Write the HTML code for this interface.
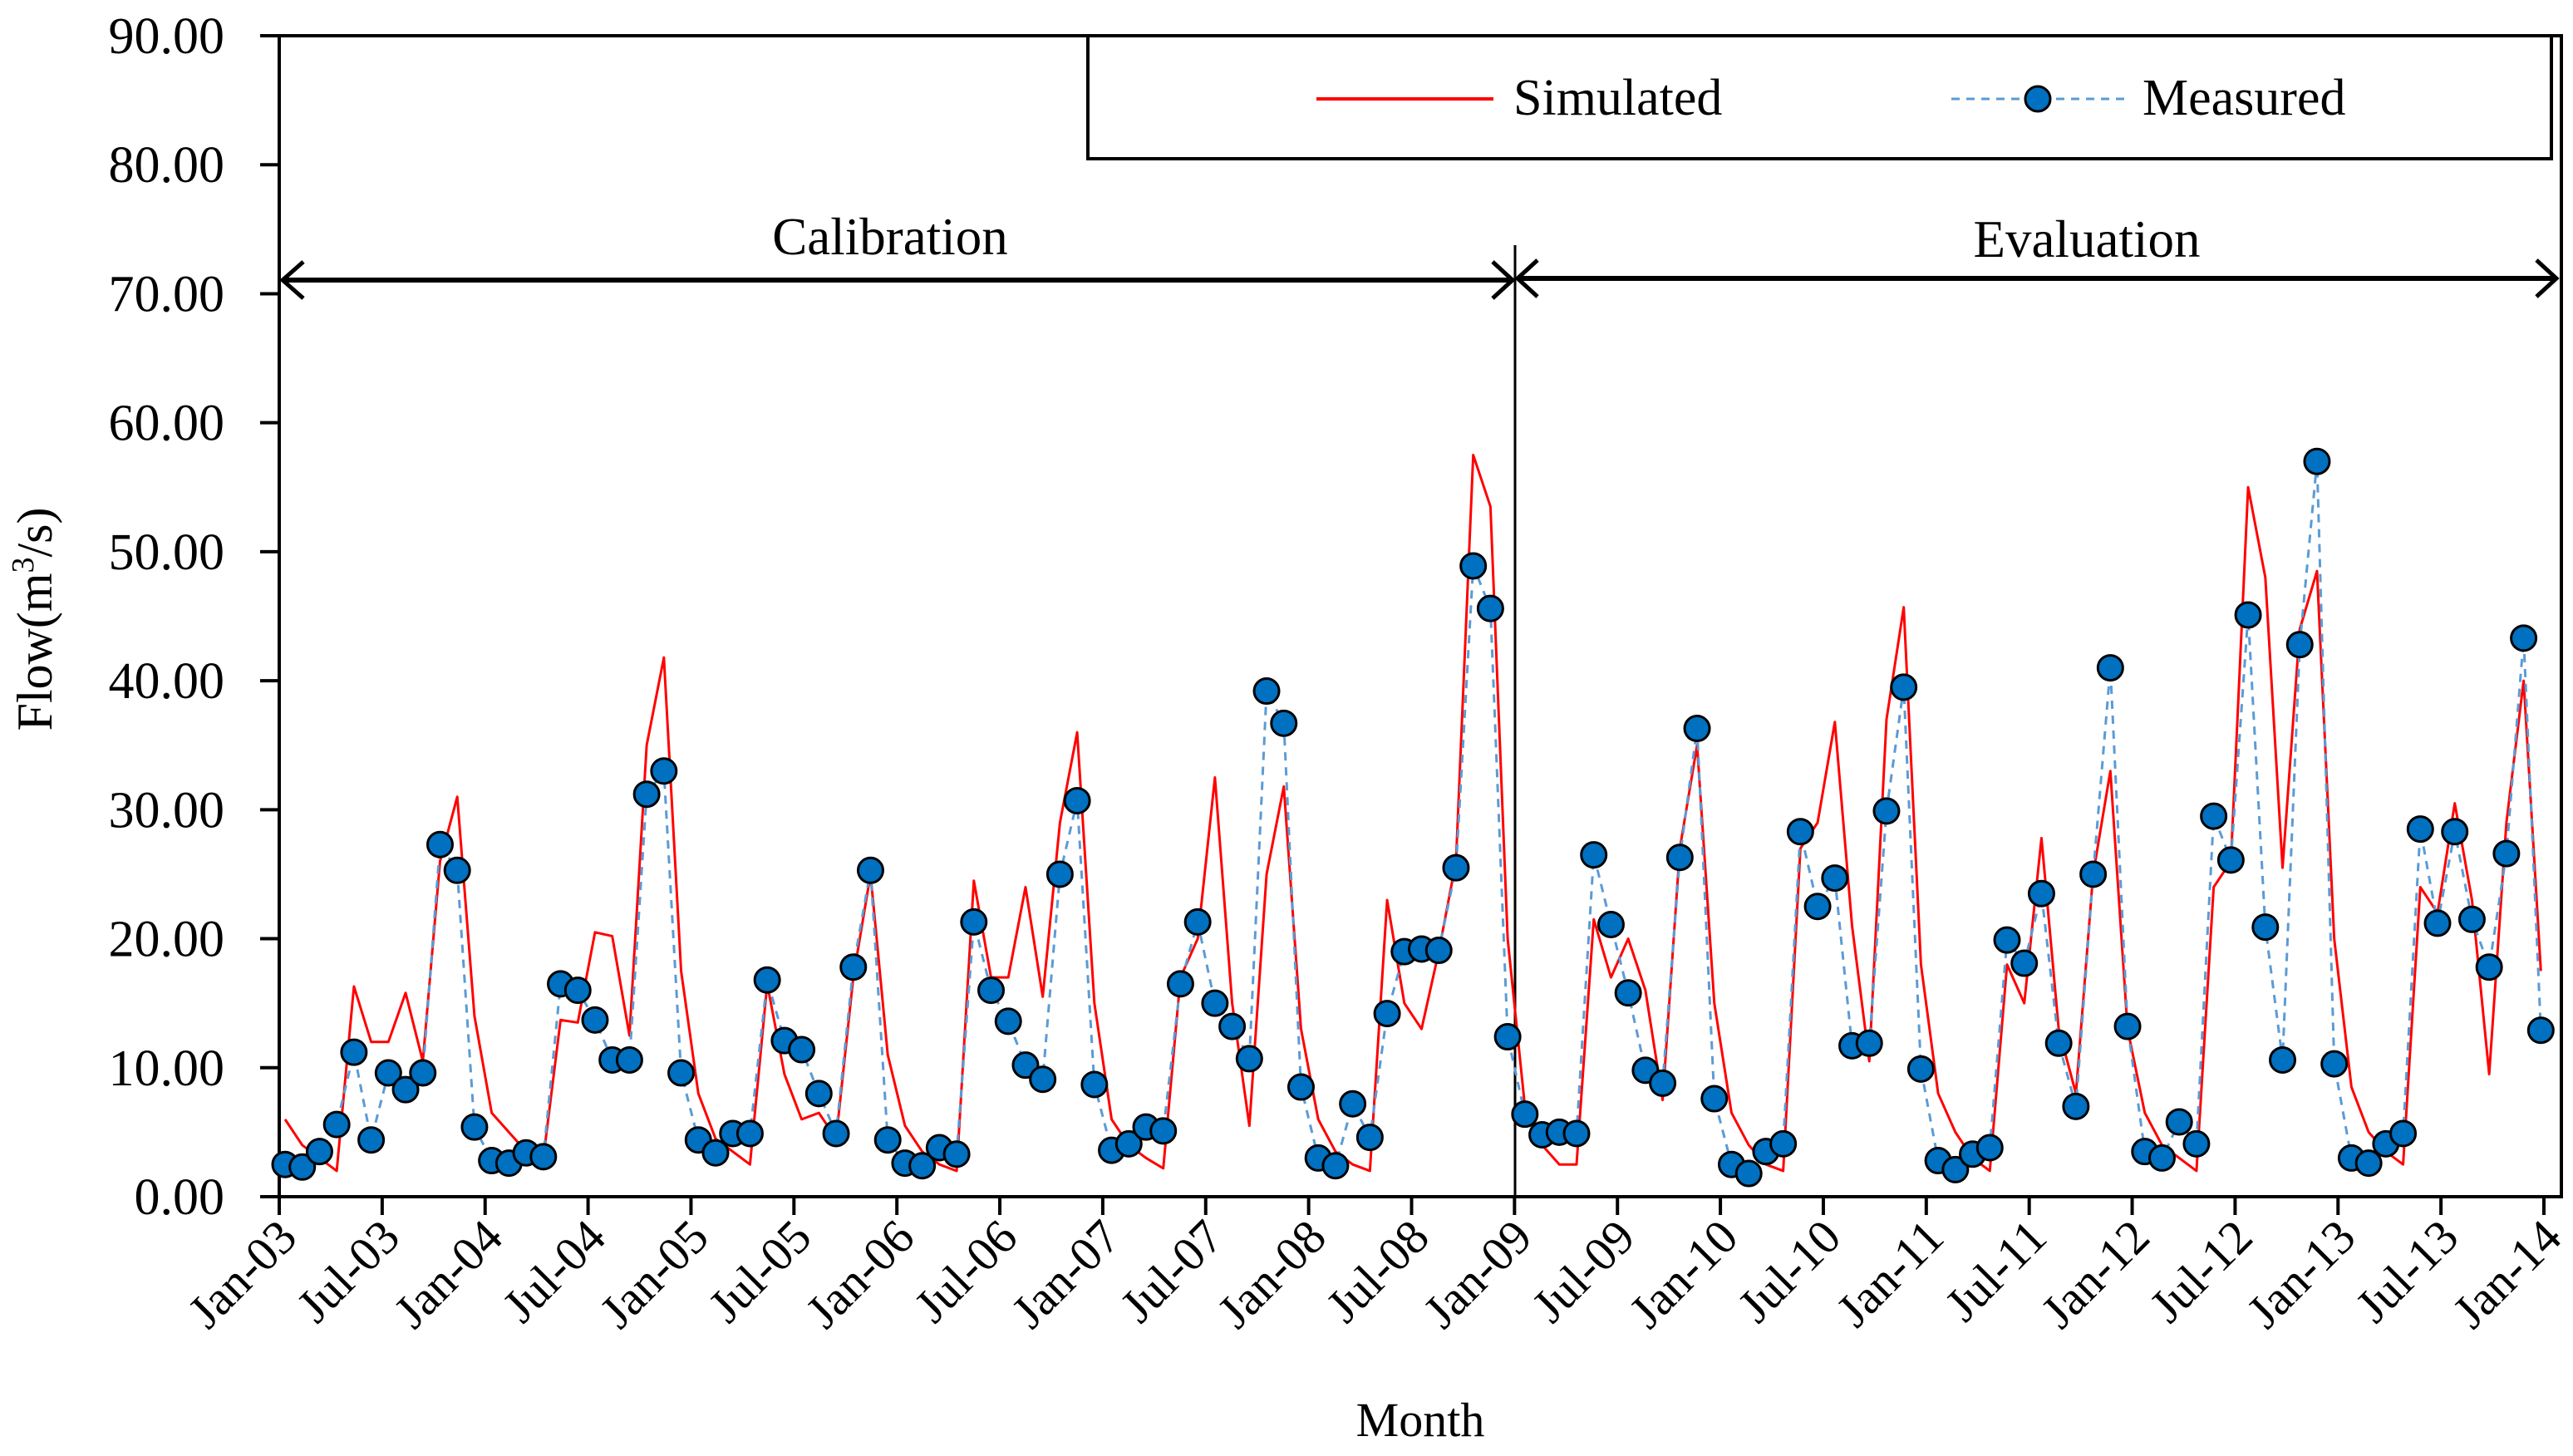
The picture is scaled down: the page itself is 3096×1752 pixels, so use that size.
<!DOCTYPE html>
<html><head><meta charset="utf-8"><style>
html,body{margin:0;padding:0;background:#fff;}
svg text{font-family:"Liberation Serif",serif;fill:#000;}
</style></head><body>
<svg id="chart" width="3096" height="1747" viewBox="0 0 3096 1747" xmlns="http://www.w3.org/2000/svg">
<rect x="336" y="43" width="2746" height="1397" fill="#fff" stroke="#000" stroke-width="4"/>
<g id="yaxis"></g>
<g id="xaxis"></g>
<text x="0" y="0" transform="translate(62,745) rotate(-90)" text-anchor="middle" font-size="60">Flow(m<tspan font-size="38" dy="-22">3</tspan><tspan dy="22">/s)</tspan></text>
<text x="1709" y="1728" text-anchor="middle" font-size="58">Month</text>
<g>
<line x1="1823" y1="295" x2="1823" y2="1440" stroke="#000" stroke-width="3"/>
<line x1="340" y1="337" x2="1818" y2="337" stroke="#000" stroke-width="6"/>
<polyline fill="none" stroke="#000" stroke-width="5" points="365,315 340,337 365,359"/>
<polyline fill="none" stroke="#000" stroke-width="5" points="1796,315 1820,337 1796,359"/>
<line x1="1826" y1="335" x2="3075" y2="335" stroke="#000" stroke-width="6"/>
<polyline fill="none" stroke="#000" stroke-width="5" points="1850,313 1826,335 1850,357"/>
<polyline fill="none" stroke="#000" stroke-width="5" points="3052,313 3076,335 3052,357"/>
<text x="1071" y="306" text-anchor="middle" font-size="63">Calibration</text>
<text x="2511" y="309" text-anchor="middle" font-size="63">Evaluation</text>
</g>
<g id="series"></g>
<g>
<rect x="1309" y="43" width="1761" height="148" fill="#fff" stroke="#000" stroke-width="4"/>
<line x1="1584" y1="119" x2="1797" y2="119" stroke="#ff0000" stroke-width="4"/>
<text x="1821" y="138" font-size="62">Simulated</text>
<line x1="2348" y1="119" x2="2558" y2="119" stroke="#5b9bd5" stroke-width="3" stroke-dasharray="10,8"/>
<circle cx="2452" cy="119" r="15" fill="#0070c0" stroke="#000" stroke-width="3"/>
<text x="2578" y="138" font-size="62">Measured</text>
</g>
</svg>
<script>
const yTicks = [0,10,20,30,40,50,60,70,80,90];
const xTickLabels = ["Jan-03","Jul-03","Jan-04","Jul-04","Jan-05","Jul-05","Jan-06","Jul-06","Jan-07","Jul-07","Jan-08","Jul-08","Jan-09","Jul-09","Jan-10","Jul-10","Jan-11","Jul-11","Jan-12","Jul-12","Jan-13","Jul-13","Jan-14"];
const measured = [2.5,2.3,3.5,5.6,11.2,4.4,9.6,8.3,9.6,27.3,
25.3,5.4,2.8,2.6,3.4,3.1,16.5,16.0,13.7,10.6,
10.6,31.2,33.0,9.6,4.4,3.4,4.9,4.9,16.8,12.1,
11.4,8.0,4.9,17.8,25.3,4.4,2.6,2.4,3.8,3.3,
21.3,16.0,13.6,10.2,9.1,25.0,30.7,8.7,3.6,4.1,
5.4,5.1,16.5,21.3,15.0,13.2,10.7,39.2,36.7,8.5,
3.0,2.4,7.2,4.6,14.2,19.0,19.2,19.1,25.5,48.9,
45.6,12.4,6.4,4.8,5.0,4.9,26.5,21.1,15.8,9.8,
8.8,26.3,36.3,7.6,2.5,1.8,3.5,4.1,28.3,22.5,
24.7,11.7,11.9,29.9,39.5,9.9,2.8,2.1,3.3,3.8,
19.9,18.1,23.5,11.9,7.0,25.0,41.0,13.2,3.5,3.0,
5.8,4.1,29.5,26.1,45.1,20.9,10.6,42.8,57.0,10.3,
3.0,2.6,4.1,4.9,28.5,21.2,28.3,21.5,17.8,26.6,
43.3,12.9];
const simulated = [6,4,3,2,16.3,12,12,15.8,10.5,26,
31,14,6.5,5,3.5,3,13.7,13.5,20.5,20.2,
12.5,35,41.8,17.5,8,4.5,3.5,2.5,16.5,9.5,
6,6.5,4.5,17,25,11,5.5,3.5,2.5,2,
24.5,17,17,24,15.5,29,36,15,6,4,
3,2.2,17,20,32.5,15,5.5,25,31.8,13,
6,3.5,2.5,2,23,15,13,19,26,57.5,
53.5,20,7,4,2.5,2.5,21.5,17,20,16,
7.5,27,35,15,6.5,4,2.5,2,27,29,
36.8,21,10.5,37,45.7,18,8,5,3,2,
18,15,27.8,13,8,25,33,13,6.5,4,
3,2,24,26,55,48,25.5,44,48.5,20,
8.5,5,3.5,2.5,24,22,30.5,23,9.5,29,
40,17.5];
const NS='http://www.w3.org/2000/svg';
const Y0=1440, Y1=43, YMAX=90;
function yScale(v){return Y0-(v/YMAX)*(Y0-Y1);}
const XT0=336, XT1=3061;
function tickX(i){return XT0+i*(XT1-XT0)/(xTickLabels.length-1);}
function ptX(i){return 343+i*20.72;}
function mk(tag,attrs,parent){const e=document.createElementNS(NS,tag);for(const k in attrs)e.setAttribute(k,attrs[k]);parent.appendChild(e);return e;}
const ya=document.getElementById('yaxis');
yTicks.forEach(v=>{
  const y=yScale(v);
  const t=mk('line',{x1:313,y1:y,x2:336,y2:y,stroke:'#000','stroke-width':4},ya);
  
  
  const l=mk('text',{x:270,y:y+21,'text-anchor':'end','font-size':62},ya);
  l.textContent=v.toFixed(2);
  
  
});
const xa=document.getElementById('xaxis');
xTickLabels.forEach((s,i)=>{
  const x=tickX(i);
  const t=mk('line',{x1:x,y1:1440,x2:x,y2:1462,stroke:'#000','stroke-width':4},xa);
  
  
  const l=mk('text',{x:0,y:0,'text-anchor':'end','font-size':58,transform:`translate(${x+24},${1492}) rotate(-45)`},xa);
  l.textContent=s;
  
  
});
const sg=document.getElementById('series');
const sim=mk('polyline',{fill:'none',stroke:'#ff0000','stroke-width':3,'stroke-linejoin':'round',points:simulated.map((v,i)=>ptX(i)+','+yScale(v)).join(' ')},sg);


const mea=mk('polyline',{fill:'none',stroke:'#5b9bd5','stroke-width':3,'stroke-dasharray':'10,8',points:measured.map((v,i)=>ptX(i)+','+yScale(v)).join(' ')},sg);


measured.forEach((v,i)=>{
  const c=mk('circle',{cx:ptX(i),cy:yScale(v),r:15,fill:'#0070c0',stroke:'#000','stroke-width':3},sg);
  
  
});
</script>
</body></html>
